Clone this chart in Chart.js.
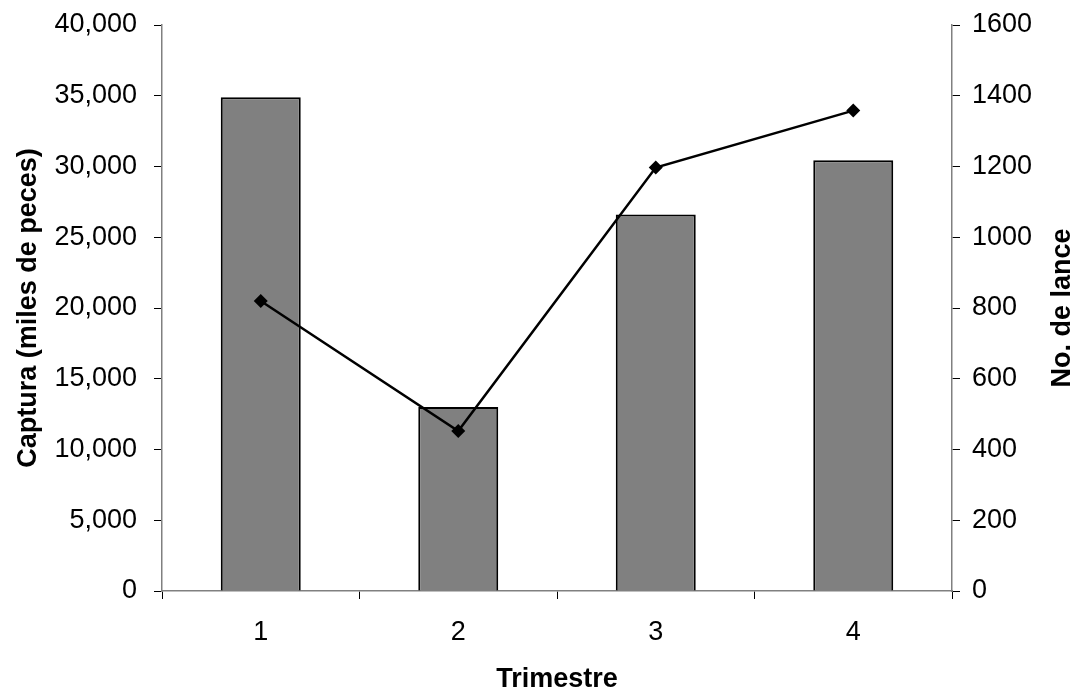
<!DOCTYPE html>
<html>
<head>
<meta charset="utf-8">
<script src="https://cdn.jsdelivr.net/npm/chart.js@4/dist/chart.umd.min.js"></script>
<style>
  html, body { margin: 0; padding: 0; background: #fff; }
  #wrap { width: 1080px; height: 694px; }
</style>
</head>
<body>
<div id="wrap"><canvas id="myChart" width="1080" height="694"></canvas></div>
<script>
// datos
const trimestres = ['1', '2', '3', '4'];
const captura = [34900, 13000, 26600, 30450];   // miles de peces
const lances = [820, 452, 1197, 1358];          // No. de lance

const fuente = "'Liberation Sans', Arial, sans-serif";

// titulos de ejes verticales (los dos leen de abajo hacia arriba)
const titulosEjes = {
  id: 'titulosEjes',
  afterDraw(chart) {
    const ctx = chart.ctx;
    const area = chart.chartArea;
    const cy = (area.top + area.bottom) / 2;
    [[29, 'Captura (miles de peces)'], [1063, 'No. de lance']].forEach(function (t) {
      ctx.save();
      ctx.fillStyle = '#000';
      ctx.font = 'bold 27px ' + fuente;
      ctx.textAlign = 'center';
      ctx.textBaseline = 'middle';
      ctx.translate(t[0], cy);
      ctx.rotate(-Math.PI / 2);
      ctx.fillText(t[1], 0, 0);
      ctx.restore();
    });
  }
};

const config = {
  data: {
    labels: trimestres,
    datasets: [
      {
        type: 'line',
        label: 'No. de lance',
        data: lances,
        yAxisID: 'y1',
        borderColor: '#000',
        borderWidth: 2.5,
        backgroundColor: '#000',
        pointStyle: 'rectRot',
        pointRadius: 7,
        pointBorderWidth: 0,
        tension: 0,
        order: 0
      },
      {
        type: 'bar',
        label: 'Captura',
        data: captura,
        yAxisID: 'y',
        backgroundColor: '#808080',
        borderColor: '#000',
        borderWidth: 2,
        categoryPercentage: 1,
        barPercentage: 0.405,
        order: 1
      }
    ]
  },
  options: {
    responsive: false,
    animation: false,
    layout: { padding: { top: 25, left: 0, right: 0, bottom: 0 } },
    plugins: {
      legend: { display: false },
      tooltip: { enabled: false }
    },
    scales: {
      x: {
        grid: { drawOnChartArea: false, tickLength: 8, tickColor: '#000', offset: true },
        border: { color: '#808080', width: 1.5 },
        ticks: { color: '#000', font: { family: fuente, size: 27 }, padding: 17 },
        title: {
          display: true,
          text: 'Trimestre',
          color: '#000',
          font: { family: fuente, size: 27, weight: 'bold' },
          padding: { top: 10, bottom: -2 }
        },
        afterFit(scale) { scale.height = 103; }
      },
      y: {
        position: 'left',
        min: 0,
        max: 40000,
        grid: { drawOnChartArea: false, tickLength: 8, tickColor: '#000' },
        border: { color: '#808080', width: 1.5 },
        ticks: {
          stepSize: 5000,
          color: '#000',
          font: { family: fuente, size: 27 },
          padding: 17,
          callback: function (v) { return v.toLocaleString('en-US'); }
        },
        afterFit(scale) { scale.width = 162; scale.paddingTop = 0; }
      },
      y1: {
        position: 'right',
        min: 0,
        max: 1600,
        grid: { drawOnChartArea: false, tickLength: 8, tickColor: '#000' },
        border: { color: '#808080', width: 1.5 },
        ticks: {
          stepSize: 200,
          color: '#000',
          font: { family: fuente, size: 27 },
          padding: 12,
          callback: function (v) { return String(v); }
        },
        afterFit(scale) { scale.width = 128; scale.paddingTop = 0; }
      }
    }
  },
  plugins: [titulosEjes]
};

const myChart = new Chart(document.getElementById('myChart'), config);
</script>
</body>
</html>
